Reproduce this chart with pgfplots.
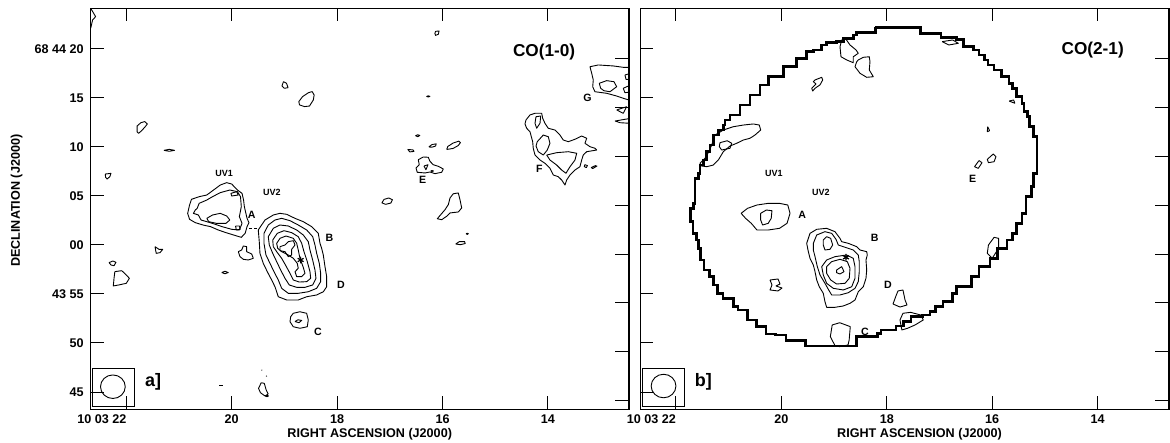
\documentclass[border=0pt]{standalone}
\usepackage{fontspec}
\setmainfont{Liberation Sans}
\usepackage{pgfplots}
\pgfplotsset{compat=1.18}
\tikzset{
  lbl/.style={font=\fontsize{5.3}{6}\selectfont\bfseries},
  uv/.style={font=\fontsize{4.5}{5}\selectfont\bfseries},
  big/.style={font=\fontsize{8.6}{9}\selectfont\bfseries},
  panel/.style={font=\fontsize{9}{10}\selectfont\bfseries},
}
\pgfplotsset{
  mapaxis/.style={
    scale only axis, height=200.5pt,
    ymin=43.235, ymax=84.153,
    x dir=reverse,
    xtick={22,20,18,16,14}, xticklabels={\llap{10 03 22},20,18,16,14},
    ytick={45,50,55,60,65,70,75,80},
    tick align=inside, major tick length=6.5pt,
    xtick pos=both, ytick pos=left,
    tick style={black, line width=0.5pt},
    axis line style={black, line width=0.6pt},
    tick label style={font=\fontsize{6.3}{7}\selectfont\bfseries},
    xticklabel style={anchor=base, inner sep=0pt, yshift=-7.35pt},
    yticklabel style={anchor=east, inner sep=0pt, xshift=-3.35pt},
  },
  rticks/.style={
    scale only axis, height=200.5pt,
    ymin=43.235, ymax=84.153, x dir=reverse,
    hide x axis, axis y line*=right,
    ytick={44.12,49.1,54.1,59.08,64.08,69.08,74.06,79.06}, yticklabels={},
    tick align=inside, major tick length=7pt,
    tick style={black, line width=0.5pt},
    axis line style={black, line width=0.6pt},
  },
  cont/.style={black, line width=0.45pt, line join=round},
  bnd/.style={black, line width=1.3pt, line join=miter},
}
\begin{document}
\begin{tikzpicture}
\useasboundingbox (0,0) rectangle (585pt,221.5pt);
% ================= LEFT PANEL: CO(1-0) =================
\begin{axis}[mapaxis, at={(45.35pt,16.85pt)}, anchor=south west, width=269.1pt,
  xmin=12.463, xmax=22.676,
  yticklabels={45,50,43 55,00,05,10,15,68 44 20}]
% beam box and beam
\addplot[black, line width=0.5pt] coordinates {(22.647,47.41)(21.840,47.41)(21.840,43.57)(22.647,43.57)(22.647,47.41)};
\addplot[cont] coordinates {(22.490,45.54)(22.472,46.00)(22.421,46.39)(22.345,46.65)(22.255,46.74)(22.165,46.65)(22.089,46.39)(22.038,46.00)(22.020,45.54)(22.038,45.08)(22.089,44.69)(22.165,44.43)(22.255,44.34)(22.345,44.43)(22.421,44.69)(22.472,45.08)(22.490,45.54)};
% small features
\addplot[cont] coordinates {(22.676,84.15)(22.582,83.30)(22.640,82.96)(22.676,82.11)};
\addplot[cont] coordinates {(16.131,81.80)(16.065,81.84)(16.080,81.50)(16.131,81.39)(16.145,81.60)(16.131,81.80)};
\addplot[cont] coordinates {(19.018,76.67)(18.960,76.50)(18.931,76.05)(19.004,75.99)(19.047,76.22)(19.018,76.67)};
\addplot[cont] coordinates {(18.545,75.54)(18.473,75.65)(18.436,75.31)(18.451,74.80)(18.524,74.18)(18.618,74.12)(18.713,74.29)(18.727,74.63)(18.655,75.14)(18.545,75.54)};
\addplot[cont] coordinates {(16.27,75.22)(16.24,75.16)(16.27,75.10)(16.30,75.16)(16.27,75.22)};
\addplot[cont] coordinates {(21.724,72.48)(21.651,72.59)(21.600,72.35)(21.651,72.01)(21.709,71.67)(21.767,71.39)(21.796,71.56)(21.796,72.14)(21.724,72.48)};
\addplot[cont] coordinates {(21.287,69.66)(21.185,69.76)(21.084,69.66)(21.185,69.56)(21.287,69.66)};
\addplot[cont] coordinates {(22.400,67.24)(22.291,67.31)(22.313,66.97)(22.364,66.73)(22.393,66.90)(22.400,67.24)};
% E region
\addplot[cont] coordinates {(16.47,71.25)(16.43,71.18)(16.47,71.05)(16.51,71.15)(16.47,71.25)};
\addplot[cont] coordinates {(16.26,70.00)(16.20,70.25)(16.12,70.32)(16.13,70.10)(16.20,69.98)(16.26,70.00)};
\addplot[cont] coordinates {(15.92,69.75)(15.90,70.05)(15.80,70.40)(15.69,70.60)(15.66,70.45)(15.70,70.15)(15.80,69.85)(15.92,69.75)};
\addplot[cont] coordinates {(16.66,69.75)(16.56,69.70)(16.54,69.55)(16.62,69.50)(16.66,69.75)};
\addplot[cont] coordinates {(16.460,68.70)(16.365,68.98)(16.270,68.95)(16.238,68.54)(16.175,68.19)(16.080,68.03)(15.985,67.76)(16.016,67.42)(16.143,67.28)(16.238,67.45)(16.333,67.35)(16.479,67.42)(16.503,67.86)(16.441,68.19)(16.460,68.70)};
\addplot[cont] coordinates {(16.352,68.06)(16.276,68.19)(16.314,67.68)(16.352,68.06)};
\addplot[cont] coordinates {(16.20,67.60)(16.17,67.55)(16.20,67.50)(16.22,67.55)(16.20,67.60)};
\addplot[cont] coordinates {(17.15,64.30)(17.11,64.65)(17.02,64.80)(16.95,64.62)(16.98,64.28)(17.08,64.15)(17.15,64.30)};
\addplot[cont] coordinates {(15.795,65.23)(15.700,65.31)(15.668,64.62)(15.636,63.78)(15.700,63.37)(15.858,63.27)(15.921,62.93)(16.016,62.58)(16.099,62.68)(15.953,63.60)(15.890,64.11)(15.858,64.80)(15.795,65.23)};
\addplot[cont] coordinates {(15.75,60.10)(15.68,60.35)(15.58,60.35)(15.57,60.15)(15.66,60.03)(15.75,60.10)};
\addplot[cont] coordinates {(15.53,61.20)(15.51,61.15)(15.53,61.08)(15.55,61.15)(15.53,61.20)};
% F complex
\addplot[cont] coordinates {(14.416,72.76)(14.340,73.27)(14.245,73.44)(14.118,73.44)(14.099,72.93)(14.056,72.42)(13.993,71.91)(13.866,71.73)(13.771,71.22)(13.708,70.71)(13.613,70.54)(13.486,70.79)(13.359,71.12)(13.264,70.89)(13.297,70.38)(13.202,70.03)(13.107,69.87)(13.075,69.69)(13.264,69.52)(13.329,69.18)(13.359,68.67)(13.392,67.99)(13.486,67.65)(13.581,67.14)(13.644,66.63)(13.676,66.12)(13.739,66.63)(13.803,66.97)(13.898,67.14)(13.961,67.83)(14.056,68.34)(14.150,68.67)(14.245,69.18)(14.278,69.87)(14.289,70.54)(14.340,71.56)(14.403,71.91)(14.435,72.35)(14.416,72.76)};
\addplot[cont] coordinates {(14.226,73.09)(14.137,73.16)(14.150,72.42)(14.213,71.91)(14.245,72.42)(14.226,73.09)};
\addplot[cont] coordinates {(14.202,70.54)(14.088,71.22)(13.993,71.05)(13.961,70.38)(14.012,69.69)(14.088,69.18)(14.183,69.52)(14.226,70.10)(14.202,70.54)};
\addplot[cont] coordinates {(14.023,69.18)(13.834,69.42)(13.613,69.52)(13.454,69.36)(13.486,68.67)(13.581,67.99)(13.657,67.32)(13.739,67.65)(13.834,68.16)(13.961,68.67)(14.023,69.18)};
\addplot[cont] coordinates {(13.30,68.20)(13.25,68.10)(13.27,67.90)(13.31,68.00)(13.30,68.20)};
\addplot[cont] coordinates {(13.18,67.90)(13.10,68.10)(13.07,68.05)(13.15,67.80)(13.18,67.90)};
% G complex (runs off the edge)
\addplot[cont] coordinates {(12.40,78.11)(12.570,78.13)(12.760,78.27)(13.044,78.37)(13.202,78.19)(13.169,77.52)(13.139,76.84)(13.150,76.15)(13.107,75.64)(12.885,75.48)(12.695,75.20)(12.570,74.97)(12.40,74.69)};
\addplot[cont] coordinates {(13.025,76.50)(12.885,76.77)(12.746,76.66)(12.695,76.15)(12.822,75.64)(12.936,75.74)(12.999,75.99)(13.025,76.50)};
\addplot[cont] coordinates {(12.538,77.35)(12.40,77.55)(12.40,76.84)(12.519,76.91)(12.538,77.35)};
\addplot[cont] coordinates {(12.570,75.99)(12.475,76.22)(12.40,75.64)(12.538,75.54)(12.570,75.99)};
\addplot[cont] coordinates {(12.695,73.78)(12.506,74.11)(12.570,73.44)(12.695,73.78)};
\addplot[cont] coordinates {(12.727,72.65)(12.40,72.95)(12.40,72.40)(12.632,72.48)(12.727,72.65)};
% A / UV1 region
\addplot[cont] coordinates {(20.836,63.23)(20.800,64.08)(20.764,64.66)(20.618,64.93)(20.473,65.10)(20.327,65.68)(20.218,66.12)(20.095,66.36)(20.000,66.22)(19.891,65.61)(19.804,65.27)(19.775,64.59)(19.760,63.91)(19.731,63.23)(19.709,62.72)(19.673,62.28)(19.709,61.87)(19.745,61.19)(19.818,60.78)(19.964,61.02)(20.109,61.26)(20.255,61.53)(20.400,61.87)(20.545,62.04)(20.691,62.28)(20.800,62.62)(20.836,63.23)};
\addplot[cont] coordinates {(20.655,63.74)(20.618,64.25)(20.473,64.59)(20.364,64.93)(20.218,65.34)(20.036,65.61)(19.891,65.44)(19.833,64.93)(19.818,63.91)(19.855,62.89)(19.804,62.21)(19.855,61.53)(20.000,61.60)(20.182,61.87)(20.327,62.14)(20.473,62.38)(20.582,62.55)(20.633,63.06)(20.727,63.23)(20.691,63.57)(20.655,63.74)};
\addplot[cont] coordinates {(20.473,62.72)(20.364,63.06)(20.218,63.23)(20.095,62.96)(20.036,62.55)(20.109,62.21)(20.291,62.21)(20.436,62.38)(20.473,62.72)};
\addplot[cont] coordinates {(20.015,65.27)(19.905,65.44)(19.876,65.10)(20.000,65.00)(20.015,65.27)};
\addplot[cont] coordinates {(19.927,61.94)(19.855,61.94)(19.840,61.60)(19.913,61.53)(19.927,61.94)};
\addplot[cont] coordinates {(19.673,61.70)(19.615,61.70)};
\addplot[cont] coordinates {(19.571,61.70)(19.513,61.70)};
% B / D main source
\addplot[cont] coordinates {(19.496,61.53)(19.369,62.55)(19.211,63.06)(19.084,63.23)(18.957,63.13)(18.799,62.72)(18.642,62.38)(18.482,61.87)(18.357,61.19)(18.325,60.17)(18.293,59.66)(18.262,58.98)(18.230,57.79)(18.198,56.77)(18.198,55.74)(18.262,55.23)(18.388,54.90)(18.578,54.72)(18.737,54.39)(18.957,54.39)(19.116,54.72)(19.179,55.74)(19.242,56.43)(19.325,57.28)(19.401,58.13)(19.464,59.15)(19.477,60.34)(19.496,61.53)};
\addplot[cont] coordinates {(19.388,61.19)(19.306,62.04)(19.179,62.55)(19.052,62.72)(18.894,62.48)(18.737,62.04)(18.577,61.53)(18.463,60.85)(18.420,60.00)(18.388,59.15)(18.338,58.13)(18.312,57.11)(18.312,56.26)(18.388,55.58)(18.547,55.23)(18.737,55.07)(18.927,55.07)(19.052,55.58)(19.116,56.43)(19.198,57.28)(19.274,58.13)(19.350,58.98)(19.388,60.17)(19.388,61.19)};
\addplot[cont] coordinates {(19.306,60.85)(19.211,61.70)(19.084,62.04)(18.927,61.94)(18.767,61.53)(18.642,61.02)(18.547,60.34)(18.515,59.49)(18.464,58.47)(18.420,57.45)(18.401,56.60)(18.464,55.92)(18.610,55.68)(18.767,55.68)(18.907,55.92)(18.989,56.60)(19.071,57.45)(19.147,58.30)(19.222,59.15)(19.287,60.00)(19.306,60.85)};
\addplot[cont] coordinates {(19.222,60.51)(19.135,61.19)(19.008,61.46)(18.862,61.26)(18.737,60.85)(18.672,60.17)(18.629,59.32)(18.566,58.30)(18.515,57.28)(18.501,56.60)(18.577,56.26)(18.718,56.22)(18.832,56.43)(18.894,57.11)(18.970,57.86)(19.052,58.64)(19.147,59.32)(19.211,59.83)(19.222,60.51)};
\addplot[cont] coordinates {(19.147,60.17)(19.084,60.68)(18.970,60.92)(18.831,60.68)(18.767,60.17)(18.737,59.49)(18.705,58.64)(18.642,57.72)(18.610,57.11)(18.672,56.77)(18.767,56.77)(18.799,57.28)(18.737,57.62)(18.756,58.13)(18.831,58.64)(18.927,58.98)(19.052,59.32)(19.128,59.66)(19.147,60.17)};
\addplot[cont] coordinates {(19.084,59.83)(18.989,60.00)(18.927,60.34)(18.831,60.44)(18.799,60.00)(18.862,59.56)(18.862,58.98)(18.927,58.81)(18.989,59.32)(19.084,59.42)(19.084,59.83)};
\addplot[only marks, mark=asterisk, mark size=1.7pt, line width=0.6pt] coordinates {(18.692,58.47)};
% around B
\addplot[cont] coordinates {(19.875,59.32)(19.811,59.49)(19.780,59.90)(19.716,59.83)(19.716,59.32)(19.621,59.08)(19.590,58.64)(19.685,58.47)(19.780,58.54)(19.843,58.81)(19.875,59.32)};
\addplot[cont] coordinates {(20.190,57.19)(20.128,57.32)(20.065,57.19)(20.128,57.07)(20.190,57.19)};
% C
\addplot[cont] coordinates {(18.832,53.03)(18.705,53.19)(18.578,53.03)(18.547,52.35)(18.566,51.66)(18.705,51.50)(18.832,51.66)(18.894,52.17)(18.881,52.68)(18.832,53.03)};
\addplot[cont] coordinates {(18.799,52.19)(18.742,52.37)(18.672,52.30)(18.724,52.07)(18.799,52.19)};
% west side
\addplot[cont] coordinates {(21.455,59.83)(21.382,59.56)(21.309,59.56)(21.360,59.22)(21.433,59.15)(21.455,59.83)};
\addplot[cont] coordinates {(22.327,58.20)(22.255,58.37)(22.196,58.23)(22.233,57.89)(22.291,57.96)(22.327,58.20)};
\addplot[cont] coordinates {(22.218,57.28)(22.087,57.38)(22.000,56.94)(21.942,56.60)(22.000,56.09)(22.145,55.92)(22.247,55.82)(22.233,56.60)(22.218,57.28)};
% bottom
\addplot[cont] coordinates {(19.440,45.95)(19.382,45.88)(19.345,45.20)(19.309,44.80)(19.367,44.59)(19.455,44.93)(19.491,45.37)(19.440,45.95)};
\addplot[cont] coordinates {(19.33,44.65)(19.30,44.60)(19.33,44.52)(19.36,44.58)(19.33,44.65)};
\addplot[cont] coordinates {(19.433,47.26)(19.425,47.20)};
\addplot[cont] coordinates {(19.345,46.66)(19.337,46.58)};
\addplot[cont] coordinates {(20.24,45.65)(20.16,45.65)};
% labels
\node[uv] at (axis cs:20.145,67.31) {UV1};
\node[uv] at (axis cs:19.236,65.34) {UV2};
\node[lbl] at (axis cs:19.622,63.06) {A};
\node[lbl] at (axis cs:18.145,60.68) {B};
\node[lbl] at (axis cs:17.927,55.92) {D};
\node[lbl] at (axis cs:18.364,51.16) {C};
\node[lbl] at (axis cs:16.378,66.63) {E};
\node[lbl] at (axis cs:14.160,67.82) {F};
\node[lbl] at (axis cs:13.251,75.03) {G};
\node[big] at (axis cs:14.073,79.73) {CO(1-0)};
\node[panel] at (axis cs:21.491,46.05) {a]};
\end{axis}
\begin{axis}[rticks, at={(45.35pt,16.85pt)}, anchor=south west, width=269.1pt, xmin=12.463, xmax=22.676]
\addplot[draw=none] coordinates {(17,60)};
\end{axis}
% ================= RIGHT PANEL: CO(2-1) =================
\begin{axis}[mapaxis, at={(320.1pt,16.85pt)}, anchor=south west, width=264.4pt,
  xmin=12.645, xmax=22.679, yticklabels={}]
\addplot[black, line width=0.5pt] coordinates {(22.643,47.41)(21.843,47.41)(21.843,43.57)(22.643,43.57)(22.643,47.41)};
\addplot[cont] coordinates {(22.471,45.61)(22.453,46.07)(22.402,46.46)(22.326,46.72)(22.236,46.81)(22.146,46.72)(22.070,46.46)(22.019,46.07)(22.001,45.61)(22.019,45.15)(22.070,44.76)(22.146,44.50)(22.236,44.41)(22.326,44.50)(22.402,44.76)(22.453,45.15)(22.471,45.61)};
% primary beam boundary
\addplot[bnd, const plot] coordinates {(18.218,82.21)(17.360,82.21)(17.360,81.60)(17.004,81.60)(16.968,81.19)(16.683,80.99)(16.540,80.23)(16.360,79.90)(16.254,79.39)(16.148,78.88)(16.076,78.37)(15.969,77.86)(15.825,77.17)(15.683,76.50)(15.611,75.99)(15.541,75.13)(15.432,74.46)(15.398,73.60)(15.326,73.09)(15.290,72.07)(15.218,71.05)(15.148,70.03)(15.148,67.32)(15.218,65.95)(15.254,64.93)(15.362,63.23)(15.432,62.21)(15.541,61.19)(15.611,60.51)(15.719,59.66)(15.897,58.64)(16.040,57.79)(16.254,56.77)(16.396,55.74)(16.683,55.07)(16.753,54.21)(16.932,53.70)(17.076,53.19)(17.182,52.86)(17.325,52.68)(17.539,52.17)(17.683,51.73)(17.825,51.33)(18.110,50.99)(18.182,50.64)(18.575,49.69)(19.503,49.69)(19.539,50.23)(19.896,50.23)(19.909,50.82)(20.110,50.92)(20.289,51.66)(20.467,52.35)(20.645,53.37)(20.823,53.70)(20.909,54.56)(21.108,55.07)(21.216,55.92)(21.286,56.77)(21.359,57.45)(21.465,58.47)(21.537,59.66)(21.573,60.51)(21.609,61.19)(21.679,62.38)(21.730,63.74)(21.672,64.26)(21.639,64.93)(21.639,66.81)(21.576,67.32)(21.544,68.16)(21.482,68.67)(21.417,69.52)(21.355,70.20)(21.292,71.22)(21.197,71.73)(21.102,72.24)(21.070,72.76)(20.975,73.27)(20.785,74.29)(20.595,75.31)(20.406,76.33)(20.248,77.17)(20.153,77.17)(19.964,78.19)(19.869,78.19)(19.710,79.05)(19.520,79.72)(19.394,79.90)(19.235,80.41)(19.140,80.64)(18.950,80.74)(18.825,81.09)(18.635,81.43)(18.571,81.66)(18.286,81.66)(18.218,82.21)};
% contours inside
\addplot[cont] coordinates {(18.856,80.92)(18.774,80.99)(18.698,80.41)(18.584,79.90)(18.541,79.56)(18.636,79.21)(18.636,78.60)(18.761,78.88)(18.869,79.21)(18.888,80.23)(18.856,80.92)};
\addplot[cont] coordinates {(18.541,78.88)(18.446,79.15)(18.332,79.21)(18.319,78.70)(18.332,77.86)(18.256,77.17)(18.381,77.11)(18.508,77.52)(18.603,78.19)(18.571,78.70)(18.541,78.88)};
\addplot[cont] coordinates {(19.362,76.84)(19.235,77.11)(19.216,76.84)(19.268,76.33)(19.362,75.99)(19.406,75.71)(19.425,75.99)(19.343,76.43)(19.394,76.66)(19.362,76.84)};
\addplot[cont] coordinates {(16.950,80.75)(16.750,80.92)(16.643,80.58)(16.821,80.41)(16.950,80.75)};
\addplot[cont] coordinates {(15.679,74.69)(15.593,74.80)(15.571,74.46)(15.679,74.69)};
\addplot[cont] coordinates {(16.086,72.07)(16.050,71.67)(16.093,71.56)(16.086,72.07)};
\addplot[cont] coordinates {(21.260,71.22)(21.102,71.73)(20.913,72.07)(20.723,72.24)(20.533,72.35)(20.419,72.24)(20.393,71.73)(20.501,71.22)(20.596,70.89)(20.723,70.71)(20.848,70.38)(20.975,70.10)(21.102,69.52)(21.197,68.67)(21.292,68.16)(21.418,67.99)(21.513,68.06)(21.544,68.34)(21.449,68.85)(21.387,69.42)(21.322,70.20)(21.292,70.71)(21.260,71.22)};
\addplot[cont] coordinates {(21.165,70.44)(21.027,70.64)(20.943,70.38)(20.975,69.87)(21.133,69.69)(21.178,70.03)(21.165,70.44)};
\addplot[cont] coordinates {(16.336,67.99)(16.250,68.61)(16.193,68.40)(16.264,67.82)(16.336,67.99)};
\addplot[cont] coordinates {(16.093,68.74)(15.979,69.29)(15.929,69.01)(15.964,68.50)(16.071,68.40)(16.093,68.74)};
% A
\addplot[cont] coordinates {(20.764,63.23)(20.643,63.74)(20.464,64.08)(20.250,64.25)(20.036,64.25)(19.879,64.08)(19.836,63.23)(19.893,62.21)(20.036,61.70)(20.250,61.53)(20.464,61.53)(20.571,62.21)(20.679,62.72)(20.764,63.23)};
\addplot[cont] coordinates {(20.393,63.23)(20.286,63.57)(20.179,63.50)(20.193,62.72)(20.250,62.21)(20.357,62.04)(20.393,62.55)(20.393,63.23)};
% B
\addplot[cont] coordinates {(19.520,60.17)(19.457,61.19)(19.330,61.60)(19.141,61.70)(18.983,61.36)(18.888,60.68)(18.856,60.34)(18.731,60.17)(18.571,59.83)(18.509,59.49)(18.381,59.32)(18.370,58.98)(18.395,58.47)(18.381,57.45)(18.395,56.60)(18.446,55.74)(18.541,55.23)(18.603,54.39)(18.698,54.05)(18.825,53.78)(18.983,53.64)(19.141,53.64)(19.173,54.21)(19.205,55.07)(19.281,55.74)(19.330,56.43)(19.362,57.28)(19.394,57.96)(19.457,58.64)(19.489,59.32)(19.520,60.17)};
\addplot[cont] coordinates {(19.394,60.17)(19.330,61.02)(19.173,61.36)(19.046,61.19)(18.964,60.58)(18.920,60.00)(18.793,59.77)(18.636,59.49)(18.541,58.98)(18.522,58.30)(18.522,57.28)(18.541,56.26)(18.603,55.58)(18.731,55.13)(18.888,54.90)(19.046,54.90)(19.110,55.48)(19.173,56.09)(19.267,56.94)(19.318,57.79)(19.362,58.81)(19.394,59.49)(19.394,60.17)};
\addplot[cont] coordinates {(19.235,57.79)(19.141,58.47)(18.983,58.81)(18.761,58.98)(18.636,58.64)(18.603,57.79)(18.603,56.60)(18.666,55.74)(18.825,55.41)(19.015,55.58)(19.141,56.09)(19.205,56.94)(19.235,57.79)};
\addplot[cont] coordinates {(19.141,57.79)(19.046,58.30)(18.888,58.54)(18.749,58.30)(18.698,57.62)(18.712,56.60)(18.793,56.09)(18.951,56.02)(19.065,56.43)(19.141,57.11)(19.141,57.79)};
\addplot[cont] coordinates {(18.951,57.45)(18.856,57.79)(18.812,57.28)(18.888,57.04)(18.951,57.17)(18.951,57.45)};
\addplot[cont] coordinates {(19.205,60.51)(19.141,60.85)(19.065,60.68)(19.027,60.00)(19.078,59.56)(19.173,59.49)(19.205,60.00)(19.205,60.51)};
\addplot[only marks, mark=asterisk, mark size=1.7pt, line width=0.6pt] coordinates {(18.774,58.74)};
\addplot[cont] coordinates {(20.216,56.43)(20.064,56.53)(20.026,56.02)(20.102,55.82)(19.988,55.61)(20.064,55.31)(20.216,55.41)(20.178,55.92)(20.216,56.43)};
% D, C and others
\addplot[cont] coordinates {(17.788,55.31)(17.693,55.41)(17.654,54.39)(17.616,53.88)(17.750,53.67)(17.882,53.98)(17.826,54.80)(17.788,55.31)};
\addplot[cont] coordinates {(19.036,51.84)(18.893,52.07)(18.693,51.67)(18.714,50.31)(18.736,49.80)(18.893,49.63)(18.979,49.69)(19.071,50.65)(19.036,51.84)};
\addplot[cont] coordinates {(17.750,52.35)(17.693,53.03)(17.550,53.13)(17.357,52.86)(17.307,52.35)(17.464,51.84)(17.607,51.50)(17.714,51.33)(17.750,52.35)};
\addplot[cont] coordinates {(15.964,60.78)(15.879,60.68)(15.879,59.66)(16.000,58.64)(16.093,59.15)(16.071,60.00)(15.964,60.78)};
% labels
\node[uv] at (axis cs:20.143,67.31) {UV1};
\node[uv] at (axis cs:19.25,65.34) {UV2};
\node[lbl] at (axis cs:19.607,63.06) {A};
\node[lbl] at (axis cs:18.229,60.68) {B};
\node[lbl] at (axis cs:17.979,55.92) {D};
\node[lbl] at (axis cs:18.414,51.16) {C};
\node[lbl] at (axis cs:16.371,66.70) {E};
\node[big] at (axis cs:14.093,79.90) {CO(2-1)};
\node[panel] at (axis cs:21.479,46.05) {b]};
\end{axis}
\begin{axis}[rticks, at={(320.1pt,16.85pt)}, anchor=south west, width=264.4pt, xmin=12.645, xmax=22.679]
\addplot[draw=none] coordinates {(17,60)};
\end{axis}
% axis titles
\node[anchor=base, font=\fontsize{6.3}{7}\selectfont\bfseries] at (184.85pt,2.85pt) {RIGHT ASCENSION (J2000)};
\node[anchor=base, font=\fontsize{6.3}{7}\selectfont\bfseries] at (459.75pt,2.85pt) {RIGHT ASCENSION (J2000)};
\node[rotate=90, anchor=base, font=\fontsize{6.3}{7}\selectfont\bfseries] at (10pt,121.1pt) {DECLINATION (J2000)};
\end{tikzpicture}
\end{document}
